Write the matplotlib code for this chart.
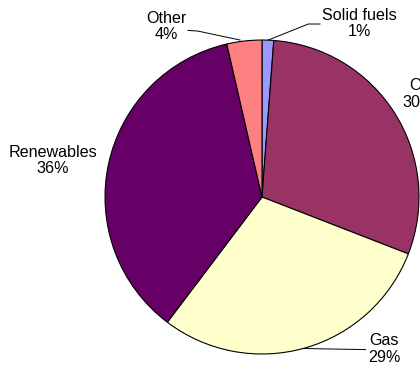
import matplotlib
matplotlib.use("Agg")
import matplotlib.pyplot as plt

# energy mix shares, clockwise from 12 o'clock
labels = ["Solid fuels", "Oil", "Gas", "Renewables", "Other"]
shares = [1.2, 29.7, 29.4, 36.1, 3.6]
pct_text = ["1%", "30%", "29%", "36%", "4%"]
colors = ["#9999FF", "#993366", "#FFFFCC", "#660066", "#FF8080"]

plt.rcParams["font.family"] = ["Liberation Sans", "DejaVu Sans"]

fig = plt.figure(figsize=(4.2, 3.72), dpi=100)
ax = fig.add_axes([0.25, 0.0484, 0.7476, 0.844])
ax.pie(shares, colors=colors, startangle=90, counterclock=False,
       wedgeprops=dict(edgecolor="black", linewidth=0.8))
ax.set_xlim(-1, 1)
ax.set_ylim(-1, 1)
ax.set_aspect("equal")
ax.axis("off")

# label centres in pie units (radius 1 = 157 px, centre at 262,197 px)
lab_pos = {
    "Solid fuels": (0.618, 1.105),
    "Oil": (1.0, 0.656),
    "Gas": (0.777, -0.968),
    "Renewables": (-1.331, 0.232),
    "Other": (-0.611, 1.085),
}
for name, pct in zip(labels, pct_text):
    x, y = lab_pos[name]
    ax.text(x, y, f"{name}\n{pct}", ha="center", va="center", fontsize=11.6,
            linespacing=1.12, clip_on=False)

# leader lines
ax.plot([0.04, 0.295, 0.369], [1.0, 1.102, 1.102], color="black", lw=0.7, clip_on=False)
ax.plot([-0.140, -0.408, -0.471], [1.0, 1.057, 1.061], color="black", lw=0.7, clip_on=False)
ax.plot([0.26, 0.66], [-0.965, -0.972], color="black", lw=0.7, clip_on=False)

fig.savefig("out.png", dpi=100)
